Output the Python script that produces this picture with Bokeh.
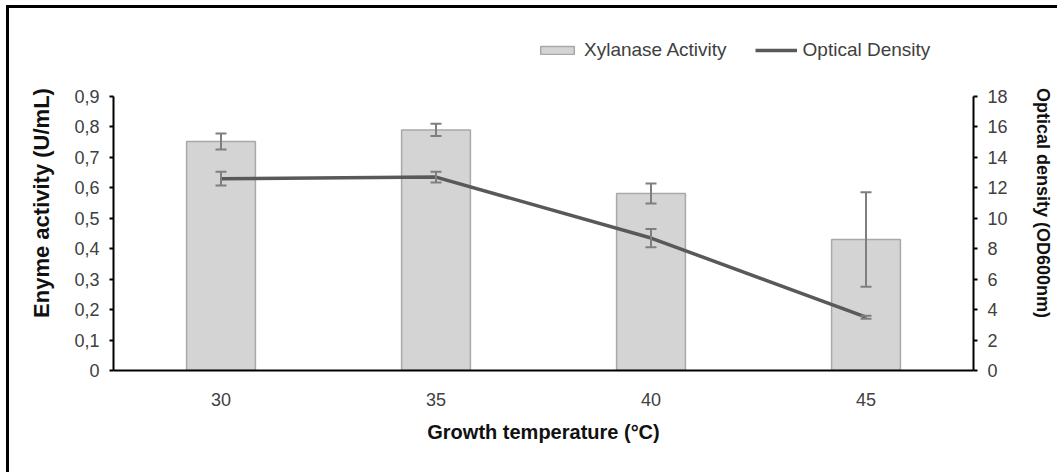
from bokeh.plotting import figure
from bokeh.models import (ColumnDataSource, Range1d, FactorRange, LinearAxis, FixedTicker,
                          CustomJSTickFormatter, Whisker, TeeHead, Legend, LegendItem)
from bokeh.embed import file_html
from bokeh.resources import INLINE

# Growth temperature categories (°C)
temperatures = ["30", "35", "40", "45"]

# Xylanase activity (U/mL) with standard deviation
activity = [0.752, 0.790, 0.581, 0.430]
activity_err = [0.026, 0.020, 0.033, 0.155]

# Optical density (OD600nm) with standard deviation
density = [12.6, 12.7, 8.7, 3.5]
density_err = [0.45, 0.35, 0.60, 0.10]

left_ticks = [0, 0.1, 0.2, 0.3, 0.4, 0.5, 0.6, 0.7, 0.8, 0.9]
right_ticks = [0, 2, 4, 6, 8, 10, 12, 14, 16, 18]

FONT = "Liberation Sans"
TICK_COLOR = "#404040"

src = ColumnDataSource(dict(
    t=temperatures,
    act=activity,
    act_lo=[a - e for a, e in zip(activity, activity_err)],
    act_hi=[a + e for a, e in zip(activity, activity_err)],
    od=density,
    od_lo=[d - e for d, e in zip(density, density_err)],
    od_hi=[d + e for d, e in zip(density, density_err)],
))

# the frame is taller than the axes so the legend can sit above the data area;
# the axes themselves are bounded to 0-0.9 and 0-18
p = figure(
    width=1051, height=467,
    x_range=FactorRange(*temperatures, range_padding=0),
    y_range=Range1d(0, 1.1),
    output_backend="svg", toolbar_location=None,
    min_border_left=104, min_border_right=87, min_border_top=27, min_border_bottom=105,
)
p.styles = {"margin-left": "6px", "margin-top": "5px",
            "border-left": "3px solid black", "border-top": "3px solid black"}
p.extra_y_ranges = {"od": Range1d(0, 22)}
p.outline_line_color = None
p.xgrid.grid_line_color = None
p.ygrid.grid_line_color = None
p.background_fill_color = "white"
p.border_fill_color = "white"

bars = p.vbar(x="t", top="act", width=0.32, source=src,
              fill_color="#d4d4d4", line_color="#a8a8a8", line_width=1.5)
line = p.line(x="t", y="od", source=src, y_range_name="od",
              line_color="#595959", line_width=3.5)

head_style = dict(size=11, line_color="#7f7f7f", line_width=2)
p.add_layout(Whisker(base="t", lower="act_lo", upper="act_hi", source=src, level="overlay",
                     line_color="#7f7f7f", line_width=2,
                     lower_head=TeeHead(**head_style), upper_head=TeeHead(**head_style)))
p.add_layout(Whisker(base="t", lower="od_lo", upper="od_hi", source=src, y_range_name="od",
                     level="overlay", line_color="#7f7f7f", line_width=2,
                     lower_head=TeeHead(**head_style), upper_head=TeeHead(**head_style)))

# left axis: enzyme activity, decimal comma
ya = p.yaxis[0]
ya.ticker = FixedTicker(ticks=left_ticks)
ya.formatter = CustomJSTickFormatter(code="return tick === 0 ? '0' : tick.toFixed(1).replace('.', ',');")
ya.axis_label = "Enyme activity (U/mL)"
ya.bounds = (left_ticks[0], left_ticks[-1])

# right axis: optical density
yr = LinearAxis(y_range_name="od", ticker=FixedTicker(ticks=right_ticks),
                axis_label="Optical density (OD600nm)",
                bounds=(right_ticks[0], right_ticks[-1]))
p.add_layout(yr, "right")

for ax in (ya, yr):
    ax.axis_line_color = "black"
    ax.axis_line_width = 2
    ax.major_tick_line_color = "black"
    ax.major_tick_line_width = 2
    ax.major_tick_out = 4
    ax.major_tick_in = 0
    ax.minor_tick_line_color = None
    ax.major_label_standoff = 10

xa = p.xaxis[0]
xa.axis_label = "Growth temperature (°C)"
xa.axis_line_color = "black"
xa.axis_line_width = 2
xa.major_tick_line_color = None
xa.minor_tick_line_color = None
xa.major_label_standoff = 16
xa.axis_label_standoff = 12

for ax in (ya, yr, xa):
    ax.major_label_text_font = FONT
    ax.major_label_text_font_size = "18px"
    ax.major_label_text_color = TICK_COLOR
    ax.axis_label_text_font = FONT
    ax.axis_label_text_font_style = "bold"
    ax.axis_label_text_color = "#111111"

xa.axis_label_text_font_size = "20px"
ya.axis_label_text_font_size = "22px"
ya.axis_label_standoff = 17
yr.axis_label_text_font_size = "18px"
yr.axis_label_standoff = 22

legend = Legend(
    items=[LegendItem(label="Xylanase Activity", renderers=[bars]),
           LegendItem(label="Optical Density", renderers=[line])],
    orientation="horizontal", location=(423, 309),
    glyph_width=42, glyph_height=10, label_standoff=6, spacing=28,
    padding=0, margin=0, border_line_color=None, background_fill_alpha=0,
    label_text_font=FONT, label_text_font_size="19px", label_text_color=TICK_COLOR,
)
p.add_layout(legend, "center")

open("out.html", "w").write(file_html(p, INLINE))
